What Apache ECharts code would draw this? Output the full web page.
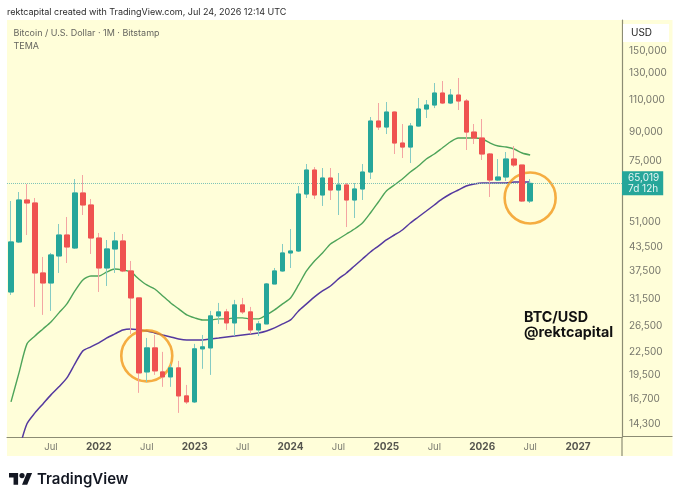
<!DOCTYPE html>
<html>
<head>
<meta charset="utf-8">
<style>html,body{margin:0;padding:0;background:#fff}#chart{width:680px;height:502px}</style>
<script src="https://cdn.jsdelivr.net/npm/echarts@6/dist/echarts.min.js"></script>
</head>
<body>
<div id="chart"></div>
<script>
// monthly candles, Feb 2021 to Jul 2026
var opens = [32830,44970,58560,57470,37000,34740,41180,46980,43300,61200,56750,46100,38180,43030,45250,37470,31620,19850,23090,19850,19240,20360,17070,16440,22950,23090,28240,28960,27020,30260,28960,25850,26850,34520,37470,41960,42490,60810,70710,60430,67250,62360,64360,58560,62760,69830,96250,92680,101850,83810,81720,93270,103800,106450,114790,107800,113350,109160,89800,86490,78210,66410,67670,75790,72970,58190];
var closes = [44970,58560,57470,37000,34740,41440,46980,43570,61200,56750,46100,38180,43030,45250,37470,31620,19730,23090,19980,19240,20360,17070,16440,22950,23240,28240,28960,27020,30260,28960,25850,26850,34520,37470,41960,42490,60810,70710,60430,67250,62360,64360,58560,62760,69830,96250,92680,101850,83810,81720,93270,103800,106450,114790,107800,113350,109160,89800,86490,78210,66410,67670,75790,72970,58190,65019];
var lows = [32220,44690,46980,29880,28420,29140,37000,39400,43030,53280,41700,32830,34090,37000,37200,25210,17400,18640,19480,18070,18070,15340,16230,16330,20240,19480,26850,25850,24890,28600,25210,24890,26850,34520,37300,38180,42220,59310,58930,56400,58560,53280,49400,52290,58560,66830,90940,88680,78210,76260,73890,93000,98080,104400,107100,107100,103150,80200,83280,75310,59680,65990,65990,72060,57830,57470];
var highs = [58190,61580,64760,59300,40920,41960,50350,52620,66820,68530,58930,47580,45530,47880,47280,39900,31620,24580,25050,22520,20880,21280,18290,23680,25050,29140,30640,29510,31230,31620,29880,27360,34740,38180,44400,48790,63950,73430,72060,71600,71600,69390,65170,65170,73430,98700,107800,108500,102200,94450,95050,111240,109850,122250,123800,117700,126200,110500,94450,97470,78700,75790,79200,82240,72970,66830];
var temaGreen = [16440,19730,23680,24890,26020,27190,28780,30450,33040,35410,36310,36310,37230,37940,37700,37230,35630,34310,33450,32020,30640,29510,28420,27890,27530,27530,27710,27710,27890,27890,27710,27710,28420,29320,30450,31620,34310,37470,39900,41960,44400,45820,47280,48790,50670,53960,57830,61970,64360,66830,69830,72510,75790,78210,81210,84340,86490,86490,86490,85950,83810,82240,81720,80700,78700,77720];
var temaPurple = [null,12160,14320,15340,16230,17180,18070,19120,20880,22660,23240,23830,24580,25210,25850,26020,25850,25690,25370,25050,24740,24430,24280,24280,24280,24430,24580,24740,24890,25050,25210,25370,25690,26180,26850,27530,29140,30450,31820,33040,34090,35630,37000,38670,40400,42220,43830,45530,46980,48480,50670,52620,54640,56750,58930,60810,62360,63950,64760,65170,65170,65170,65170,65580,65580,65580];
var priceTicks = [14300,16700,19500,22500,26500,31500,37500,43500,51000,75000,90000,110000,130000,150000];
var lastPrice = 65019;
// hand drawn rings: centre month index and price
var ringMonths = [17,65];
var ringPrices = [21960,59310];

var categories = [];
for (var m = 0; m < 77; m++) {
    var total = 2021 * 12 + 1 + m;
    categories.push(Math.floor(total / 12) + '-' + (total % 12 + 1));
}

var UP = '#26a69a', DOWN = '#ef5350';
var font = 'Inter, "Liberation Sans", sans-serif';

var wickData = opens.map(function (o, i) { return [o, closes[i], lows[i], highs[i]]; });
var bodyData = opens.map(function (o, i) {
    return [o, closes[i], Math.min(o, closes[i]), Math.max(o, closes[i])];
});

var myChart = echarts.init(document.getElementById('chart'));

var option = {
    animation: false,
    backgroundColor: '#fff',
    textStyle: { fontFamily: font },
    grid: { left: 7, right: 58, top: 20, bottom: 65 },
    xAxis: {
        type: 'category',
        data: categories,
        boundaryGap: true,
        axisLine: { lineStyle: { color: '#8c8c74', width: 1.2 } },
        axisTick: { show: false },
        splitLine: { show: false },
        axisLabel: {
            margin: 5,
            interval: function (i, v) {
                var mo = v.split('-')[1];
                return mo === '1' || mo === '7';
            },
            formatter: function (v) {
                var p = v.split('-');
                return p[1] === '7' ? '{m|Jul}' : '{y|' + p[0] + '}';
            },
            rich: {
                m: { fontSize: 9.5, color: '#7a7a70', fontFamily: font },
                y: { fontSize: 10, color: '#55554e', fontWeight: 'bold', fontFamily: font }
            }
        }
    },
    yAxis: {
        type: 'log',
        logBase: 10,
        min: 13180,
        max: 181750,
        position: 'right',
        axisLine: { show: true, lineStyle: { color: '#8c8c74', width: 1.2 } },
        axisTick: { show: false },
        splitLine: { show: false },
        axisLabel: {
            margin: 7,
            fontSize: 10,
            color: '#77776c',
            customValues: priceTicks,
            formatter: function (v) { return Math.round(v).toLocaleString('en-US'); }
        }
    },
    series: [
        {
            type: 'line', data: temaGreen, showSymbol: false, z: 2, smooth: 0.25,
            lineStyle: { color: '#4ea45a', width: 1.4 }
        },
        {
            type: 'line', data: temaPurple, showSymbol: false, z: 2, smooth: 0.25,
            lineStyle: { color: '#54399f', width: 1.5 },
            markLine: {
                silent: true, symbol: 'none', animation: false,
                lineStyle: { color: '#7fc4b8', type: 'dotted', width: 1 },
                label: {
                    position: 'end', distance: 0,
                    formatter: '65,019\n7d 12h',
                    color: '#e6f5f2', fontSize: 10, lineHeight: 11.5,
                    backgroundColor: UP, padding: [1, 4, 0, 6], align: 'left'
                },
                data: [{ yAxis: lastPrice }]
            }
        },
        {
            type: 'scatter', z: 3, symbol: 'circle', symbolSize: 51,
            data: ringMonths.map(function (m, i) { return [m, ringPrices[i]]; }),
            itemStyle: { color: 'rgba(0,0,0,0)', borderColor: '#f2981a', borderWidth: 2.6 }
        },
        {
            type: 'candlestick', data: wickData, barWidth: 5, z: 4,
            itemStyle: { color: '#85cbc3', color0: '#f4a5a3', borderColor: '#85cbc3', borderColor0: '#f4a5a3', borderWidth: 1 }
        },
        {
            type: 'candlestick', data: bodyData, barWidth: 5, z: 5,
            itemStyle: { color: UP, color0: DOWN, borderColor: UP, borderColor0: DOWN, borderWidth: 1 }
        }
    ],
    graphic: [
        { type: 'rect', z: -1, shape: { x: 7, y: 20, width: 665.5, height: 436 }, style: { fill: '#fffed9' } },
        { type: 'line', z: 1, shape: { x1: 622, y1: 437, x2: 622, y2: 456 }, style: { stroke: '#8c8c74', lineWidth: 1.2 } },
        { type: 'line', z: 1, shape: { x1: 622, y1: 436.5, x2: 672.5, y2: 436.5 }, style: { stroke: '#8c8c74', lineWidth: 1.2 } },
        { type: 'rect', z: 6, shape: { x: 623, y: 24, width: 46, height: 18 }, style: { fill: '#fff' } },
        { type: 'text', z: 7, x: 631, y: 28, style: { text: 'USD', fill: '#222', font: '10px ' + font } },
        { type: 'text', z: 7, x: 7, y: 8, style: { text: 'rektcapital created with TradingView.com, Jul 24, 2026 12:14 UTC', fill: '#2b2b2b', font: '9px ' + font } },
        { type: 'text', z: 7, x: 13.5, y: 29, style: { text: 'Bitcoin / U.S. Dollar · 1M · Bitstamp', fill: '#666660', font: '9px ' + font } },
        { type: 'text', z: 7, x: 13.5, y: 41.5, style: { text: 'TEMA', fill: '#666660', font: '9px ' + font } },
        { type: 'text', z: 7, x: 524, y: 311, style: { text: 'BTC/USD', fill: '#111', font: 'bold 14.3px ' + font } },
        { type: 'text', z: 7, x: 524, y: 326, style: { text: '@rektcapital', fill: '#111', font: 'bold 14.3px ' + font } },
        {
            type: 'group', x: 9, y: 470.4, scaleX: 0.65, scaleY: 0.65,
            children: [
                { type: 'polygon', z: 7, shape: { points: [[0, 4], [14, 4], [14, 22], [7, 22], [7, 11], [0, 11]] }, style: { fill: '#131722' } },
                { type: 'polygon', z: 7, shape: { points: [[20, 22], [27.5, 4], [35.5, 4], [28, 22]] }, style: { fill: '#131722' } },
                { type: 'circle', z: 7, shape: { cx: 20, cy: 8, r: 4 }, style: { fill: '#131722' } }
            ]
        },
        { type: 'text', z: 7, x: 37, y: 472, style: { text: 'TradingView', fill: '#131722', font: '600 15px ' + font } }
    ]
};

myChart.setOption(option);
</script>
</body>
</html>
